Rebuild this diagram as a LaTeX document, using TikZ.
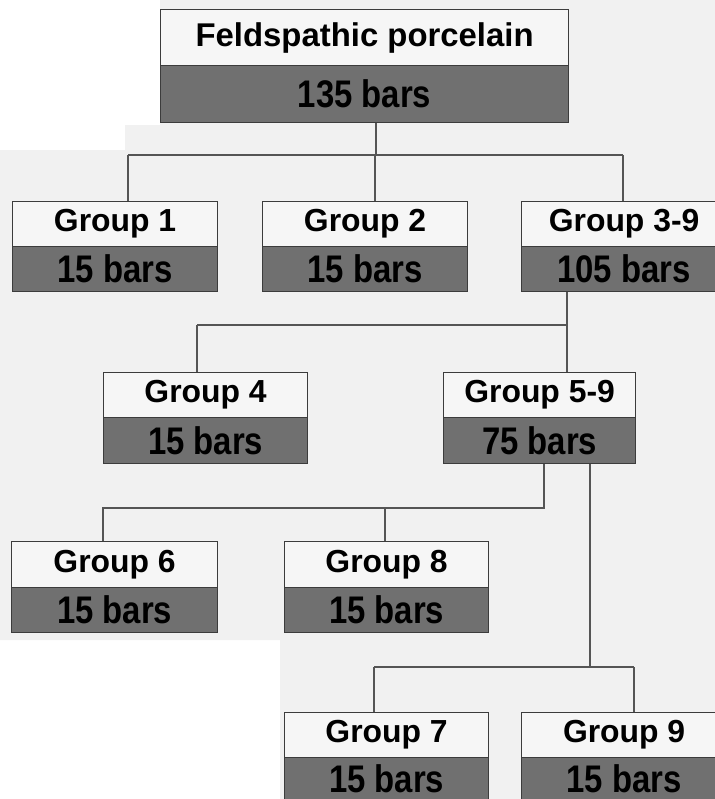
\documentclass[tikz,border=0pt]{standalone}
\usepackage{fontspec}
\setmainfont{Liberation Sans}
\definecolor{darkfill}{RGB}{112,112,112}
\definecolor{lightfill}{RGB}{246,246,246}
\definecolor{edgecol}{RGB}{60,60,60}
\definecolor{wirecol}{RGB}{85,85,85}
\definecolor{paper}{RGB}{241,241,241}
\newcommand\tallc[1]{\scalebox{1}[1.17]{#1}}
\begin{document}
\begin{tikzpicture}[x=1bp,y=-1bp,
  box/.style={draw=edgecol, line width=1.2bp, anchor=north west, inner sep=0pt,
    minimum width=#1, font=\bfseries\fontsize{32}{36}\selectfont, text=black},
  ttl/.style={box=#1, fill=lightfill, minimum height=45bp},
  cnt/.style={box=#1, fill=darkfill, minimum height=45bp,
    font=\bfseries\fontsize{33}{36}\selectfont},
  wire/.style={draw=wirecol, line width=1.5bp}]
\useasboundingbox (0,0) rectangle (715,799);
\clip (0,0) rectangle (715,799);
\fill[white] (0,0) rectangle (715,799);
\fill[paper] (160,0) -- (715,0) -- (715,799) -- (280,799) -- (280,640) -- (0,640)
  -- (0,150) -- (125,150) -- (125,125) -- (160,125) -- cycle;

% boxes
\node[ttl=408bp, minimum height=56bp, font=\bfseries\fontsize{33}{36}\selectfont] (root) at (160,9) {Feldspathic porcelain};
\node[cnt=408bp, minimum height=57bp] (rootb) at (160,65) {\tallc{135 bars}};

\node[ttl=205bp] (g1) at (12,201) {Group 1};
\node[cnt=205bp] (g1b) at (12,246) {\tallc{15 bars}};
\node[ttl=205bp] (g2) at (262,201) {Group 2};
\node[cnt=205bp] (g2b) at (262,246) {\tallc{15 bars}};
\node[ttl=205bp] (g39) at (521,201) {Group 3-9};
\node[cnt=205bp] (g39b) at (521,246) {\tallc{105 bars}};

\node[ttl=204bp] (g4) at (103,372) {Group 4};
\node[cnt=204bp, minimum height=46bp] (g4b) at (103,417) {\tallc{15 bars}};
\node[ttl=192bp] (g59) at (443,372) {Group 5-9};
\node[cnt=192bp, minimum height=46bp] (g59b) at (443,417) {\tallc{75 bars}};

\node[ttl=206bp, minimum height=46bp] (g6) at (11,541) {Group 6};
\node[cnt=206bp] (g6b) at (11,587) {\tallc{15 bars}};
\node[ttl=204bp, minimum height=46bp] (g8) at (284,541) {Group 8};
\node[cnt=204bp] (g8b) at (284,587) {\tallc{15 bars}};

\node[ttl=204bp] (g7) at (284,712) {Group 7};
\node[cnt=204bp, minimum height=42bp] (g7b) at (284,757) {\tallc{15 bars}};
\node[ttl=205bp] (g9) at (521,712) {Group 9};
\node[cnt=205bp, minimum height=42bp] (g9b) at (521,757) {\tallc{15 bars}};

% junction points
\coordinate (k0) at (376,155);
\coordinate (k1) at (128,155);
\coordinate (k2) at (375,155);
\coordinate (k3) at (623,155);
\coordinate (k4) at (567,325);
\coordinate (k5) at (197,325);
\coordinate (k6) at (544,508);
\coordinate (k7) at (103,508);
\coordinate (k8) at (385,508);
\coordinate (k9) at (590,667);
\coordinate (k10) at (374,667);
\coordinate (k11) at (634,667);

% connectors
\draw[wire] (rootb.south -| k0) -- (k0);
\draw[wire] (k1) -- (k3);
\draw[wire] (k1) -- (k1 |- g1.north);
\draw[wire] (k2) -- (k2 |- g2.north);
\draw[wire] (k3) -- (k3 |- g39.north);

\draw[wire] (g39b.south -| k4) -- (g59.north -| k4);
\draw[wire] (k5) -- (k4);
\draw[wire] (k5) -- (k5 |- g4.north);

\draw[wire] (g59b.south -| k6) -- (k6) -- (k7) -- (k7 |- g6.north);
\draw[wire] (k8) -- (k8 |- g8.north);

\draw[wire] (g59b.south -| k9) -- (k9);
\draw[wire] (k10) -- (k11);
\draw[wire] (k10) -- (k10 |- g7.north);
\draw[wire] (k11) -- (k11 |- g9.north);
\end{tikzpicture}
\end{document}
